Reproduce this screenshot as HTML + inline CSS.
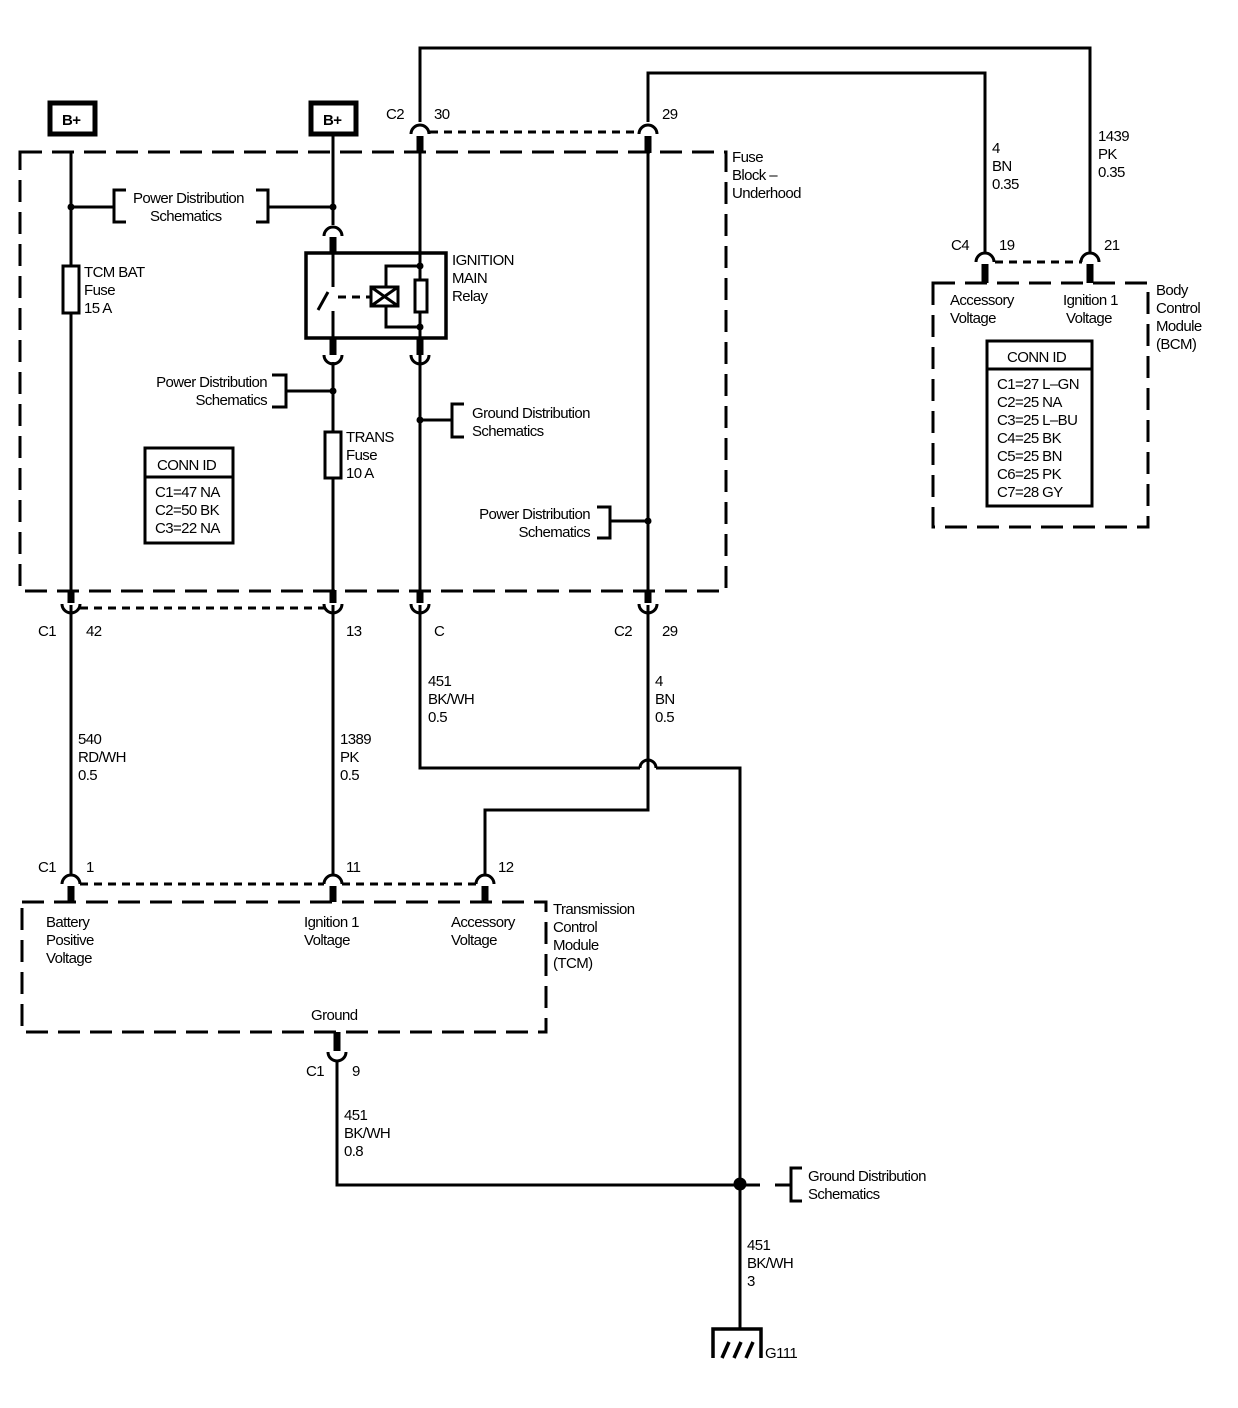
<!DOCTYPE html>
<html><head><style>
html,body{margin:0;padding:0;background:#fff}
svg{display:block}
text{font-family:"Liberation Sans",sans-serif;font-size:15px;fill:#000;letter-spacing:-0.6px}
</style></head><body>
<svg width="1238" height="1408" viewBox="0 0 1238 1408" xmlns="http://www.w3.org/2000/svg">
<g fill="none" stroke="#000" stroke-width="3">
<rect x="20" y="152" width="706" height="439" stroke-dasharray="22,10"/>
<rect x="22" y="902" width="524" height="130" stroke-dasharray="22,10"/>
<rect x="933" y="283" width="215" height="244" stroke-dasharray="22,10"/>
<g stroke-dasharray="8,6">
<line x1="430" y1="132" x2="640" y2="132"/>
<line x1="80" y1="608" x2="324" y2="608"/>
<line x1="80" y1="884" x2="324" y2="884"/>
<line x1="342" y1="884" x2="476" y2="884"/>
<line x1="995" y1="262" x2="1082" y2="262"/>
</g>
<polyline points="420,122 420,48 1090,48 1090,254"/>
<polyline points="648,122 648,73 985,73 985,254"/>
<line x1="71" y1="152" x2="71" y2="591"/>
<line x1="333" y1="136" x2="333" y2="225"/>
<line x1="420" y1="152" x2="420" y2="591"/>
<line x1="648" y1="152" x2="648" y2="591"/>
<line x1="333" y1="362" x2="333" y2="591"/>
<line x1="71" y1="605" x2="71" y2="876"/>
<line x1="333" y1="605" x2="333" y2="876"/>
<polyline points="420,605 420,768 640,768"/>
<path d="M640,768 A8,8 0 0 1 656,768"/>
<polyline points="656,768 740,768 740,1330"/>
<polyline points="648,605 648,810 485,810 485,876"/>
<polyline points="337,1060 337,1185 760,1185"/>
<line x1="775" y1="1185" x2="790" y2="1185"/>
<line x1="71" y1="207" x2="114" y2="207"/>
<line x1="268" y1="207" x2="333" y2="207"/>
<line x1="286" y1="391" x2="333" y2="391"/>
<line x1="420" y1="420" x2="452" y2="420"/>
<line x1="610" y1="521" x2="648" y2="521"/>
<polyline points="126,190 114,190 114,222 126,222"/>
<polyline points="256,190 268,190 268,222 256,222"/>
<polyline points="272,375 286,375 286,407 272,407"/>
<polyline points="464,404 452,404 452,437 464,437"/>
<polyline points="597,507 610,507 610,538 597,538"/>
<polyline points="802,1168 791,1168 791,1201 802,1201"/>
<rect x="63" y="266" width="16" height="47" fill="#fff"/>
<rect x="325" y="432" width="16" height="46" fill="#fff"/>
<rect x="306" y="253" width="140" height="85" stroke-width="3.5"/>
<line x1="333" y1="253" x2="333" y2="287"/>
<line x1="333" y1="311" x2="333" y2="338"/>
<line x1="328" y1="292" x2="318" y2="310"/>
<line x1="338" y1="297" x2="370" y2="297" stroke-dasharray="8,6"/>
<rect x="371" y="287" width="27" height="19"/>
<line x1="371" y1="287" x2="398" y2="306"/>
<line x1="371" y1="306" x2="398" y2="287"/>
<rect x="415" y="280" width="12" height="32" fill="#fff"/>
<polyline points="420,266 386,266 386,287"/>
<polyline points="386,306 386,327 420,327"/>
<rect x="987" y="341" width="105" height="165"/>
<line x1="987" y1="369" x2="1092" y2="369"/>
<rect x="145" y="448" width="88" height="95"/>
<line x1="145" y1="477" x2="233" y2="477"/>
<rect x="50" y="103" width="45" height="31" stroke-width="5"/>
<rect x="311" y="103" width="45" height="31" stroke-width="5"/>
<g>
<path d="M411,134 A9,9 0 0 1 429,134"/>
<path d="M639,134 A9,9 0 0 1 657,134"/>
<path d="M324,236 A9,9 0 0 1 342,236"/>
<path d="M976,262 A9,9 0 0 1 994,262"/>
<path d="M1081,262 A9,9 0 0 1 1099,262"/>
<path d="M62,884 A9,9 0 0 1 80,884"/>
<path d="M324,884 A9,9 0 0 1 342,884"/>
<path d="M476,884 A9,9 0 0 1 494,884"/>
<path d="M324,355 A9,9 0 0 0 342,355"/>
<path d="M411,355 A9,9 0 0 0 429,355"/>
<path d="M62,604 A9,9 0 0 0 80,604"/>
<path d="M324,604 A9,9 0 0 0 342,604"/>
<path d="M411,604 A9,9 0 0 0 429,604"/>
<path d="M639,604 A9,9 0 0 0 657,604"/>
<path d="M328,1052 A9,9 0 0 0 346,1052"/>
</g>
<polyline points="713,1358 713,1329 761,1329 761,1358" stroke-width="3.5"/>
<g stroke-width="3.5">
<line x1="729" y1="1342" x2="722" y2="1358"/>
<line x1="741" y1="1342" x2="734" y2="1358"/>
<line x1="753" y1="1342" x2="746" y2="1358"/>
</g>
</g>
<g stroke="#000" stroke-width="7">
<line x1="420" y1="136" x2="420" y2="153"/>
<line x1="648" y1="136" x2="648" y2="153"/>
<line x1="333" y1="237" x2="333" y2="253"/>
<line x1="333" y1="338" x2="333" y2="355"/>
<line x1="420" y1="338" x2="420" y2="355"/>
<line x1="71" y1="590" x2="71" y2="603"/>
<line x1="333" y1="590" x2="333" y2="603"/>
<line x1="420" y1="590" x2="420" y2="603"/>
<line x1="648" y1="590" x2="648" y2="603"/>
<line x1="985" y1="264" x2="985" y2="283"/>
<line x1="1090" y1="264" x2="1090" y2="283"/>
<line x1="71" y1="886" x2="71" y2="902"/>
<line x1="333" y1="886" x2="333" y2="902"/>
<line x1="485" y1="886" x2="485" y2="902"/>
<line x1="337" y1="1032" x2="337" y2="1051"/>
</g>
<g fill="#000">
<circle cx="71" cy="207" r="3.5"/><circle cx="333" cy="207" r="3.5"/>
<circle cx="333" cy="391" r="3.5"/><circle cx="420" cy="420" r="3.5"/>
<circle cx="648" cy="521" r="3.5"/><circle cx="420" cy="266" r="3.5"/>
<circle cx="420" cy="327" r="3.5"/><circle cx="740" cy="1184" r="6.5"/>
</g>
<text x="62" y="125" font-weight="bold">B+</text>
<text x="323" y="125" font-weight="bold">B+</text>
<text x="386" y="119">C2</text><text x="434" y="119">30</text>
<text x="662" y="119">29</text>
<text x="732" y="162">Fuse</text><text x="732" y="180">Block –</text><text x="732" y="198">Underhood</text>
<text x="992" y="153">4</text><text x="992" y="171">BN</text><text x="992" y="189">0.35</text>
<text x="1098" y="141">1439</text><text x="1098" y="159">PK</text><text x="1098" y="177">0.35</text>
<text x="951" y="250">C4</text><text x="999" y="250">19</text><text x="1104" y="250">21</text>
<text x="1156" y="295">Body</text><text x="1156" y="313">Control</text><text x="1156" y="331">Module</text><text x="1156" y="349">(BCM)</text>
<text x="950" y="305">Accessory</text><text x="950" y="323">Voltage</text>
<text x="1063" y="305">Ignition 1</text><text x="1066" y="323">Voltage</text>
<text x="1007" y="362">CONN ID</text>
<text x="997" y="389">C1=27 L–GN</text><text x="997" y="407">C2=25 NA</text><text x="997" y="425">C3=25 L–BU</text>
<text x="997" y="443">C4=25 BK</text><text x="997" y="461">C5=25 BN</text><text x="997" y="479">C6=25 PK</text><text x="997" y="497">C7=28 GY</text>
<text x="133" y="203">Power Distribution</text><text x="150" y="221">Schematics</text>
<text x="452" y="265">IGNITION</text><text x="452" y="283">MAIN</text><text x="452" y="301">Relay</text>
<text x="84" y="277">TCM BAT</text><text x="84" y="295">Fuse</text><text x="84" y="313">15 A</text>
<text x="267" y="387" text-anchor="end">Power Distribution</text><text x="267" y="405" text-anchor="end">Schematics</text>
<text x="472" y="418">Ground Distribution</text><text x="472" y="436">Schematics</text>
<text x="346" y="442">TRANS</text><text x="346" y="460">Fuse</text><text x="346" y="478">10 A</text>
<text x="157" y="470">CONN ID</text>
<text x="155" y="497">C1=47 NA</text><text x="155" y="515">C2=50 BK</text><text x="155" y="533">C3=22 NA</text>
<text x="590" y="519" text-anchor="end">Power Distribution</text><text x="590" y="537" text-anchor="end">Schematics</text>
<text x="38" y="636">C1</text><text x="86" y="636">42</text><text x="346" y="636">13</text><text x="434" y="636">C</text>
<text x="614" y="636">C2</text><text x="662" y="636">29</text>
<text x="428" y="686">451</text><text x="428" y="704">BK/WH</text><text x="428" y="722">0.5</text>
<text x="655" y="686">4</text><text x="655" y="704">BN</text><text x="655" y="722">0.5</text>
<text x="78" y="744">540</text><text x="78" y="762">RD/WH</text><text x="78" y="780">0.5</text>
<text x="340" y="744">1389</text><text x="340" y="762">PK</text><text x="340" y="780">0.5</text>
<text x="38" y="872">C1</text><text x="86" y="872">1</text><text x="346" y="872">11</text><text x="498" y="872">12</text>
<text x="553" y="914">Transmission</text><text x="553" y="932">Control</text><text x="553" y="950">Module</text><text x="553" y="968">(TCM)</text>
<text x="46" y="927">Battery</text><text x="46" y="945">Positive</text><text x="46" y="963">Voltage</text>
<text x="304" y="927">Ignition 1</text><text x="304" y="945">Voltage</text>
<text x="451" y="927">Accessory</text><text x="451" y="945">Voltage</text>
<text x="311" y="1020">Ground</text>
<text x="306" y="1076">C1</text><text x="352" y="1076">9</text>
<text x="344" y="1120">451</text><text x="344" y="1138">BK/WH</text><text x="344" y="1156">0.8</text>
<text x="808" y="1181">Ground Distribution</text><text x="808" y="1199">Schematics</text>
<text x="747" y="1250">451</text><text x="747" y="1268">BK/WH</text><text x="747" y="1286">3</text>
<text x="765" y="1358">G111</text>
</svg>
</body></html>
